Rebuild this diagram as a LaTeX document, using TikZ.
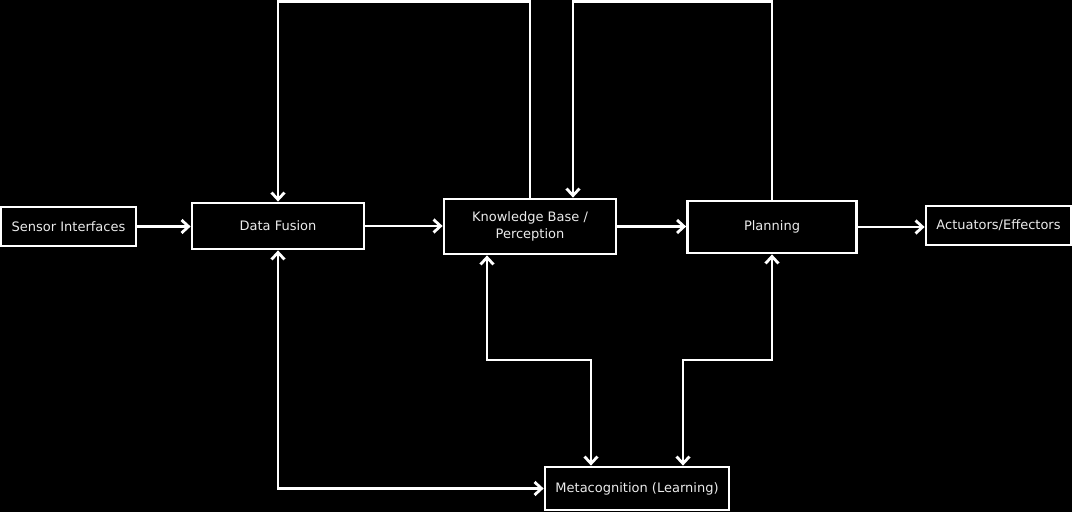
\documentclass[tikz,border=0pt]{standalone}
\usepackage{fontspec}
\setmainfont{DejaVu Sans}
\usetikzlibrary{arrows.meta}
\begin{document}
\begin{tikzpicture}[x=1pt,y=-1pt,
  box/.style={draw=white,line width=2.8pt,fill=black,text=white!92!black,inner sep=0pt,align=center,
    font=\fontsize{13}{16.5}\selectfont},
  conn/.style={draw=white,line width=2.8pt},
  tip/.tip={Straight Barb[length=7pt,width=13pt,line width=2.8pt]},
  >=tip]
\fill[black] (0,0) rectangle (1072,512);
\useasboundingbox (0,0) rectangle (1072,512);
\node[box,minimum width=135pt,minimum height=39pt] (s) at (68.5,226.5) {Sensor Interfaces};
\node[box,minimum width=172pt,minimum height=46pt] (df) at (278,226) {Data Fusion};
\node[box,minimum width=172pt,minimum height=55pt] (kb) at (530,226.5) {Knowledge Base /\\Perception};
\node[box,minimum width=169pt,minimum height=52pt] (pl) at (772,227) {Planning};
\node[box,minimum width=145pt,minimum height=39pt] (ac) at (998.5,225.5) {Actuators/Effectors};
\node[box,minimum width=184pt,minimum height=43pt] (mc) at (637,488.5) {Metacognition (Learning)};
% main chain
\draw[conn,->] (s.east) -- (s.east -| df.west);
\draw[conn,->] (df.east) -- (df.east -| kb.west);
\draw[conn,->] (kb.east) -- (kb.east -| pl.west);
\draw[conn,->] (pl.east) -- (pl.east -| ac.west);
% top loops
\coordinate (t1) at (530,1.5);
\coordinate (t2) at (278,1.5);
\draw[conn,->] (kb.north) -- (t1) -- (t2) -- (df.north);
\coordinate (t3) at (772,1.5);
\coordinate (t4) at (573,1.5);
\draw[conn,->] (pl.north) -- (t3) -- (t4) -- (t4 |- kb.north);
% bottom links
\draw[conn,<->] (df.south) |- (mc.west);
\coordinate (b1) at (487,360);
\coordinate (b2) at (591,360);
\draw[conn,<->] (b1 |- kb.south) -- (b1) -- (b2) -- (b2 |- mc.north);
\coordinate (b3) at (772,360);
\coordinate (b4) at (683,360);
\draw[conn,<->] (pl.south) -- (b3) -- (b4) -- (b4 |- mc.north);
\end{tikzpicture}
\end{document}
